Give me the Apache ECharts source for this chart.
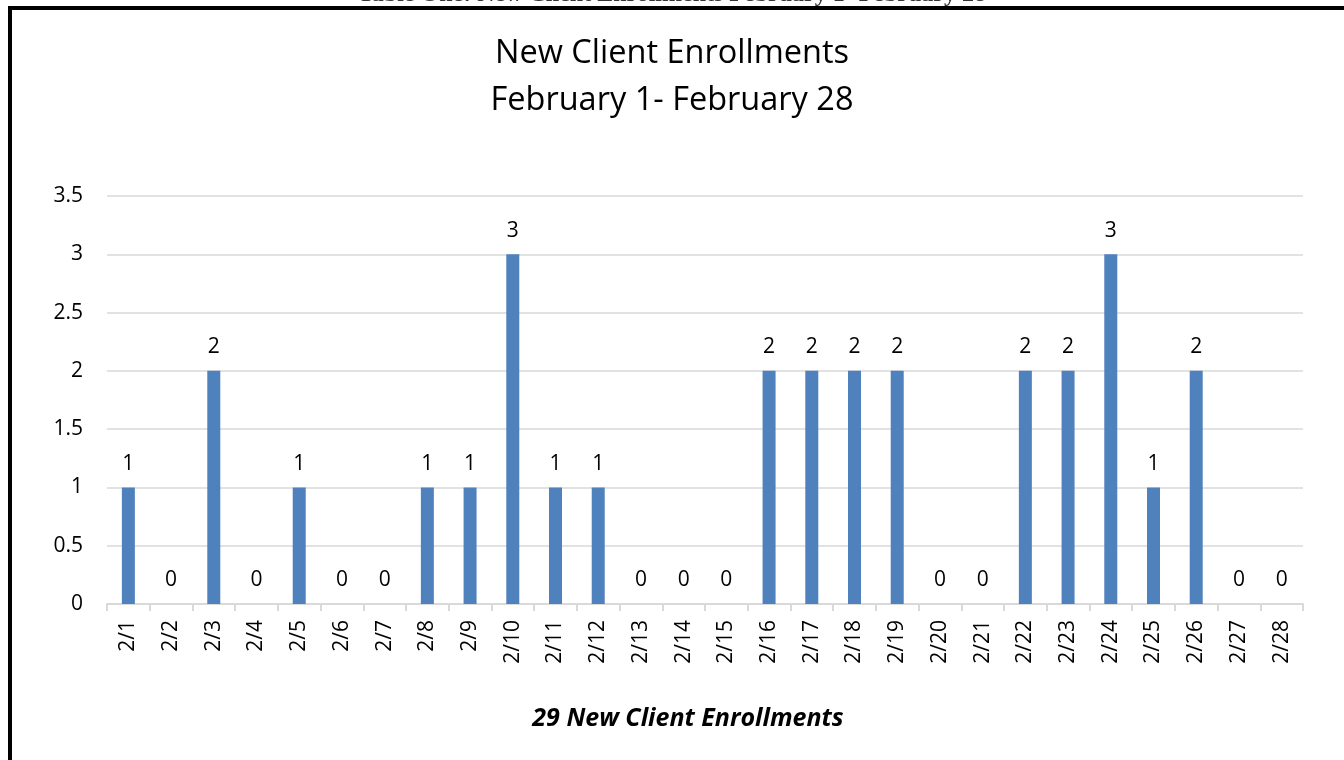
<!DOCTYPE html>
<html>
<head>
<meta charset="utf-8">
<script src="https://cdn.jsdelivr.net/npm/echarts@6/dist/echarts.min.js"></script>
<style>
  html, body { margin: 0; padding: 0; background: #fff; overflow: hidden; }
  #frame { position: absolute; left: 8px; top: 6px; width: 1340px; height: 800px; border: 4px solid #000; box-sizing: border-box; }
  #chart { position: absolute; left: 0; top: 0; width: 1344px; height: 760px; }
</style>
</head>
<body>
<div id="frame"></div>
<div id="chart"></div>
<script>
const days = ['2/1', '2/2', '2/3', '2/4', '2/5', '2/6', '2/7', '2/8', '2/9', '2/10',
  '2/11', '2/12', '2/13', '2/14', '2/15', '2/16', '2/17', '2/18', '2/19', '2/20',
  '2/21', '2/22', '2/23', '2/24', '2/25', '2/26', '2/27', '2/28']
const enrollments = [1, 0, 2, 0, 1, 0, 0, 1, 1, 3, 1, 1, 0, 0, 0, 2, 2, 2, 2, 0, 0, 2, 2, 3, 1, 2, 0, 0]
const yTicks = [0, 0.5, 1, 1.5, 2, 2.5, 3, 3.5]

const font = '"Open Sans", "Liberation Sans", sans-serif'

const option = {
  animation: false,
  title: [
    {
      text: 'Table One: New Client Enrollments February 1- February 28',
      left: 'center',
      top: -22,
      textStyle: { fontFamily: '"Liberation Serif", serif', fontSize: 24, fontWeight: 'bold', color: '#333' },
    },
    {
      text: 'New Client Enrollments\nFebruary 1- February 28',
      left: 'center',
      top: 25,
      textStyle: { fontFamily: font, fontSize: 32.5, fontWeight: 'normal', color: '#000', lineHeight: 47 },
    },
    {
      text: '29 New Client Enrollments',
      left: 683,
      textAlign: 'center',
      top: 701,
      textStyle: { fontFamily: font, fontSize: 25, fontWeight: 'bold', fontStyle: 'italic', color: '#000' },
    },
  ],
  grid: {
    left: 107,
    right: 41,
    top: 196,
    bottom: 156,
  },
  xAxis: {
    type: 'category',
    data: days,
    axisLine: { lineStyle: { color: '#d9d9d9', width: 2 } },
    axisTick: { show: true, length: 7, lineStyle: { color: '#d9d9d9', width: 2 } },
    axisLabel: { rotate: 90, color: '#000', fontFamily: font, fontSize: 21, margin: 16 },
  },
  yAxis: {
    type: 'value',
    min: 0,
    max: 3.5,
    interval: 0.5,
    axisLine: { show: false },
    axisTick: { show: false },
    axisLabel: {
      color: '#000', fontFamily: font, fontSize: 21, margin: 24,
      formatter: (v) => yTicks.includes(v) ? String(v) : '',
    },
    splitLine: { lineStyle: { color: '#d9d9d9', width: 1.5 } },
  },
  series: [
    {
      type: 'bar',
      data: enrollments,
      barWidth: 13,
      itemStyle: { color: '#4f81bd' },
      label: {
        show: true,
        position: 'top',
        distance: 13,
        color: '#000',
        fontFamily: font,
        fontSize: 21,
      },
    },
  ],
}

const myChart = echarts.init(document.getElementById('chart'), null, { renderer: 'canvas' })
myChart.setOption(option)
</script>
</body>
</html>
